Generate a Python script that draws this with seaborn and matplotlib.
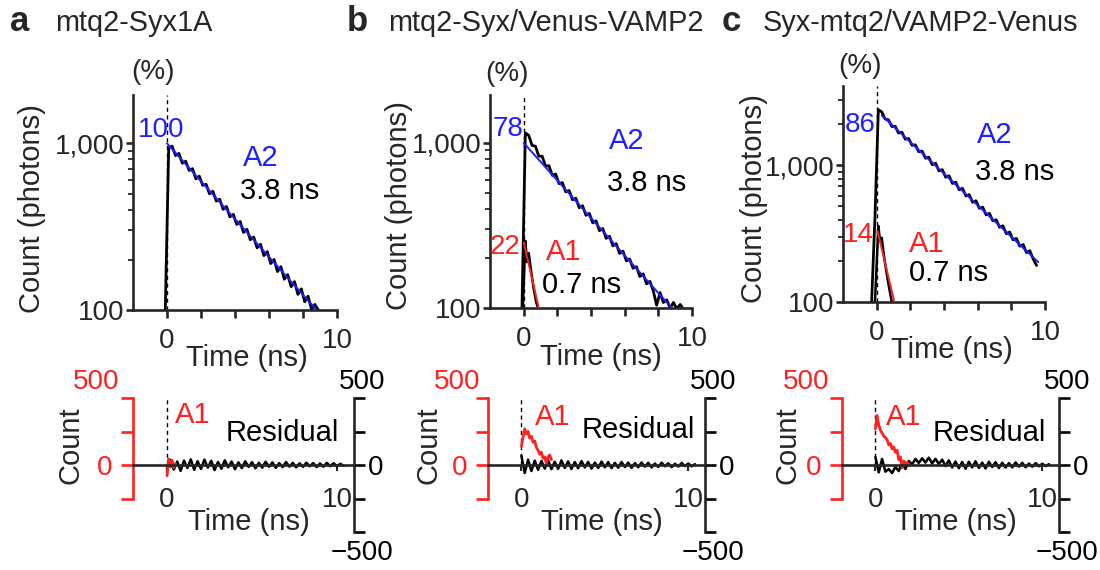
import numpy as np
import matplotlib
matplotlib.use("Agg")
import matplotlib.pyplot as plt
import seaborn as sns
from matplotlib.ticker import FixedLocator, FixedFormatter, LogLocator, NullFormatter

sns.set_theme(style="ticks")
plt.rcParams["font.family"] = ["Liberation Sans", "DejaVu Sans"]
plt.rcParams["axes.linewidth"] = 1.9

BLUE = "#1f1fff"
RED = "#ff2020"
nan = np.nan

# ---------------- data ----------------
panel_ids = ["a", "b", "c"]
panel_titles = ["mtq2-Syx1A", "mtq2-Syx/Venus-VAMP2", "Syx-mtq2/VAMP2-Venus"]
a2_percent = ["100", "78", "86"]
a1_percent = [None, "22", "14"]
tau_a2 = "3.8 ns"
tau_a1 = "0.7 ns"

# fluorescence decay histograms (photons), time in ns
t_bins = [-0.3, -0.1, 0.1, 0.3, 0.5, 0.7, 0.9, 1.1, 1.3, 1.5, 1.7, 1.9, 2.1, 2.3, 2.5,
          2.7, 2.9, 3.1, 3.3, 3.5, 3.7, 3.9, 4.1, 4.3, 4.5, 4.7, 4.9, 5.1, 5.3, 5.5,
          5.7, 5.9, 6.1, 6.3, 6.5, 6.7, 6.9, 7.1, 7.3, 7.5, 7.7, 7.9, 8.1, 8.3, 8.5,
          8.7, 8.9, 9.1, 9.3, 9.5]
counts_a = [nan, 100, 940, 962, 845, 870, 760, 782, 688, 705, 612, 636, 560, 568, 498,
            515, 450, 462, 402, 418, 362, 375, 326, 340, 292, 305, 264, 274, 236, 248,
            212, 224, 190, 201, 170, 182, 153, 163, 138, 148, 124, 134, 112, 121, 101,
            108, 100, 97, nan, nan]
counts_b = [nan, 100, 1150, 1110, 965, 955, 830, 830, 722, 728, 636, 648, 566, 575, 505,
            515, 452, 462, 405, 416, 364, 374, 328, 337, 294, 303, 264, 272, 238, 245,
            214, 221, 193, 198, 174, 178, 155, 161, 140, 145, 127, 104, 124, 108, 112,
            100, 108, 99, 105, 98]
counts_c = [100, 420, 2550, 2460, 2180, 2150, 1920, 1930, 1720, 1745, 1550, 1570, 1400,
            1410, 1255, 1270, 1125, 1145, 1010, 1035, 910, 930, 818, 838, 736, 752, 662,
            678, 596, 610, 536, 550, 484, 494, 434, 445, 392, 400, 352, 361, 316, 325,
            285, 292, 256, 263, 230, 237, 206, 185]

# fast (A1) component trace, panels b and c
fast_t_b = [-0.05, 0.1, 0.2, 0.3, 0.45, 0.6, 0.75, 0.85]
fast_b = [100, 255, 190, 215, 165, 130, 108, 100]
fast_t_c = [-0.1, 0.1, 0.2, 0.3, 0.45, 0.6, 0.75, 0.9]
fast_c = [100, 360, 280, 295, 210, 160, 125, 100]

# single-exponential fits (straight on the log axis: end points)
fit_a2_t = [[0.0, 8.8], [0.0, 8.8], [0.3, 9.6]]
fit_a2 = [[1000, 100], [1000, 100], [2320, 196]]
fit_a1_t = [None, [0.0, 0.9], [0.05, 1.05]]
fit_a1 = [None, [250, 100], [330, 100]]

# residuals (black) and A1 component counts (red)
t_res = [0.0, 0.2, 0.4, 0.6, 0.8, 1.0, 1.2, 1.4, 1.6, 1.8, 2.0, 2.2, 2.4, 2.6, 2.8, 3.0,
         3.2, 3.4, 3.6, 3.8, 4.0, 4.2, 4.4, 4.6, 4.8, 5.0, 5.2, 5.4, 5.6, 5.8, 6.0, 6.2,
         6.4, 6.6, 6.8, 7.0, 7.2, 7.4, 7.6, 7.8, 8.0, 8.2, 8.4, 8.6, 8.8, 9.0, 9.2, 9.4,
         9.6, 9.8, 10.0, 10.2, 10.4]
res_a = [-28, 38, -34, 26, -44, 33, -22, 42, -36, 28, -30, 40, -20, 31, -38, 23, -28, 35,
         -17, 26, -31, 20, -23, 28, -14, 21, -25, 16, -20, 24, -13, 19, -21, 14, -16, 22,
         -12, 16, -18, 13, -14, 17, -10, 14, -16, 12, -13, 16, -9, 13, -10, 9, -7]
res_b = [70, -60, 40, -45, 33, -36, 30, -27, 36, -31, 24, -29, 34, -22, 27, -30, 22, -24,
         29, -19, 23, -27, 18, -22, 25, -17, 21, -23, 16, -20, 22, -15, 18, -21, 14, -17,
         19, -12, 16, -18, 11, -15, 17, -10, 13, -16, 9, -12, 15, -8, 11, -10, 6]
res_c = [60, -55, 45, -50, -30, -60, -15, -45, 15, -30, 30, 5, 45, 15, 50, 18, 55, 12,
         46, 8, 40, -8, 34, -18, 26, -24, 22, -28, 24, -18, 28, -22, 18, -26, 24, -15,
         21, -23, 17, -19, 14, -18, 19, -12, 16, -17, 11, -13, 14, -10, 10, -8, 6]

a1_t_a = [0.0, 0.1, 0.2, 0.3, 0.4, 0.5]
a1_a = [-80, 45, -15, 35, -20, 10]
a1_t_b = [0.0, 0.1, 0.2, 0.3, 0.4, 0.5, 0.6, 0.7, 0.8, 0.9, 1.0, 1.1, 1.2, 1.3, 1.4,
          1.5, 1.6, 1.7, 1.8]
a1_b = [140, 210, 270, 230, 250, 200, 215, 170, 180, 130, 110, 80, 95, 50, 60, 10, 60,
        75, 40]
a1_t_c = [0.0, 0.1, 0.2, 0.3, 0.4, 0.5, 0.6, 0.7, 0.8, 0.9, 1.0, 1.1, 1.2, 1.3, 1.4,
          1.5, 1.6, 1.7, 1.8, 1.9, 2.0]
a1_c = [270, 370, 300, 260, 240, 215, 205, 190, 150, 160, 120, 135, 95, 110, 40, 60,
        -20, 30, 10, 20, 0]

decays = [counts_a, counts_b, counts_c]
fast_t = [None, fast_t_b, fast_t_c]
fast = [None, fast_b, fast_c]
residuals = [res_a, res_b, res_c]
a1_t = [a1_t_a, a1_t_b, a1_t_c]
a1_vals = [a1_a, a1_b, a1_c]

# ---------------- layout (pixels of the 1100x570 canvas) ----------------
W, H = 1100, 570


def box(x0, y0, x1, y1):
    return [x0 / W, 1 - y1 / H, (x1 - x0) / W, (y1 - y0) / H]


top_boxes = [box(133, 95, 337, 310), box(490, 95, 692, 308), box(843, 86, 1045, 302)]
bot_boxes = [box(133, 398, 354, 532), box(488, 398, 705, 532), box(842, 398, 1059, 532)]
y_tops = [1950, 1950, 3800]
label_px = [10, 347, 722]
title_px = [55, 388, 763]

# annotation anchors in data coords (t, counts)
pct2_pos = [(-0.35, 1200), (-0.95, 1220), (-1.0, 1960)]
a2_pos = [(5.5, 820), (6.1, 1030), (7.0, 1656)]
tau2_pos = [(6.6, 520), (7.3, 570), (8.2, 889)]
pct1_pos = [None, (-1.1, 235), (-1.07, 309)]
a1_pos = [None, (2.35, 218), (3.0, 265)]
tau1_pos = [None, (3.45, 138), (4.3, 163)]
ylab_top = [(-0.495, 0.474), (-0.45, 0.479), (-0.44, 0.48)]
xlab_top = [(0.56, -0.222), (0.55, -0.232), (0.54, -0.22)]
pct_lab = [(0.098, 1.107), (0.084, 1.099), (0.084, 1.093)]
bot_a1_pos = [(1.5, 373), (1.9, 358), (1.67, 358)]
bot_res_pos = [(6.8, 239), (7.0, 261), (6.85, 239)]
bot_ylab_x = [-0.285, -0.276, -0.251]
red500_x = [-0.167, -0.143, -0.164]

FS = 21
TFS = 20
dash = (0, (3, 2.5))

fig = plt.figure(figsize=(11, 5.7), dpi=100)

for i in range(3):
    # ---------- panel header ----------
    fig.text(label_px[i] / W, 1 - 31 / H, panel_ids[i], fontsize=25, fontweight="bold",
             va="baseline", ha="left")
    fig.text(title_px[i] / W, 1 - 31 / H, panel_titles[i], fontsize=20.8, va="baseline",
             ha="left")

    # ---------- decay panel ----------
    ax = fig.add_axes(top_boxes[i])
    ax.set_yscale("log")
    ax.axvline(0, color="black", ls=dash, lw=1.0, zorder=1)
    sns.lineplot(x=t_bins, y=decays[i], ax=ax, color="black", lw=2.0,
                 estimator=None, sort=False, zorder=2)
    if fast[i] is not None:
        sns.lineplot(x=fast_t[i], y=fast[i], ax=ax, color="black", lw=1.8,
                     estimator=None, sort=False, zorder=2)
        sns.lineplot(x=fit_a1_t[i], y=fit_a1[i], ax=ax, color=RED, lw=1.4,
                     estimator=None, sort=False, zorder=3)
    sns.lineplot(x=fit_a2_t[i], y=fit_a2[i], ax=ax, color=BLUE, lw=1.4,
                 estimator=None, sort=False, zorder=3)

    ax.set_xlim(-2, 10)
    ax.set_ylim(100, y_tops[i])
    ax.spines[["top", "right"]].set_visible(False)
    ax.yaxis.set_major_locator(FixedLocator([100, 1000]))
    ax.yaxis.set_major_formatter(FixedFormatter(["100", "1,000"]))
    ax.yaxis.set_minor_locator(LogLocator(base=10, subs=range(2, 10)))
    ax.yaxis.set_minor_formatter(NullFormatter())
    ax.set_xticks([0, 2, 4, 6, 8, 10])
    ax.set_xticklabels(["0", "", "", "", "", "10"])
    ax.tick_params(axis="y", which="major", length=5, width=1.9, pad=1, labelsize=TFS)
    ax.tick_params(axis="y", which="minor", length=3.5, width=1.3)
    ax.tick_params(axis="x", length=6, width=1.9, pad=7, labelsize=TFS)

    ax.set_ylabel("Count (photons)", fontsize=FS, va="center")
    ax.yaxis.set_label_coords(*ylab_top[i])
    ax.set_xlabel("Time (ns)", fontsize=FS, va="center")
    ax.xaxis.set_label_coords(*xlab_top[i])
    ax.text(*pct_lab[i], "(%)", transform=ax.transAxes, ha="center", va="center",
            fontsize=TFS, clip_on=False)

    ax.text(*pct2_pos[i], a2_percent[i], color=BLUE, fontsize=TFS, ha="center", va="center")
    ax.text(*a2_pos[i], "A2", color=BLUE, fontsize=FS, ha="center", va="center")
    ax.text(*tau2_pos[i], tau_a2, color="black", fontsize=FS, ha="center", va="center")
    if a1_percent[i] is not None:
        ax.text(*pct1_pos[i], a1_percent[i], color=RED, fontsize=TFS, ha="center", va="center")
        ax.text(*a1_pos[i], "A1", color=RED, fontsize=FS, ha="center", va="center")
        ax.text(*tau1_pos[i], tau_a1, color="black", fontsize=FS, ha="center", va="center")

    # ---------- residual panel ----------
    bx = fig.add_axes(bot_boxes[i])
    bx.patch.set_visible(False)
    bx.axvline(0, ymin=0.5, ymax=1.0, color="black", ls=dash, lw=1.0)
    sns.lineplot(x=t_res, y=residuals[i], ax=bx, color="black", lw=1.8,
                 estimator=None, sort=False)
    sns.lineplot(x=a1_t[i], y=a1_vals[i], ax=bx, color=RED, lw=2.0,
                 estimator=None, sort=False)
    bx.set_xlim(-2, 11)
    bx.set_ylim(-500, 500)
    bx.spines["top"].set_visible(False)
    bx.spines["right"].set_visible(False)
    bx.spines["bottom"].set_position(("data", 0))
    bx.spines["left"].set_color(RED)
    bx.spines["left"].set_bounds(-250, 500)
    bx.set_yticks([-250, 0, 250, 500])
    bx.set_yticklabels(["", "0", "", ""])
    bx.tick_params(axis="y", colors=RED, length=9, width=1.9, pad=6, labelsize=TFS)
    bx.set_xticks([0, 10])
    bx.set_xticklabels(["0", "10"])
    bx.tick_params(axis="x", length=4, width=1.5, pad=12, labelsize=TFS)
    bx.set_ylabel("Count", fontsize=FS, va="center")
    bx.yaxis.set_label_coords(bot_ylab_x[i], 0.649)
    bx.set_xlabel("Time (ns)", fontsize=FS, va="center")
    bx.xaxis.set_label_coords(0.525, 0.075)

    rx = bx.twinx()
    rx.set_ylim(-500, 500)
    rx.spines[["top", "left", "bottom"]].set_visible(False)
    rx.spines["right"].set_bounds(-500, 500)
    rx.set_yticks([-500, -250, 0, 250, 500])
    rx.set_yticklabels(["", "", "0", "", ""])
    rx.tick_params(axis="y", colors="black", length=8, width=1.9, pad=2, labelsize=TFS)
    rx.grid(False)

    bx.text(red500_x[i], 1.12, "500", color=RED, transform=bx.transAxes, ha="center",
            va="center", fontsize=TFS)
    bx.text(1.036, 1.12, "500", color="black", transform=bx.transAxes, ha="center",
            va="center", fontsize=TFS)
    bx.text(1.036, -0.157, "\u2212500", color="black", transform=bx.transAxes, ha="center",
            va="center", fontsize=TFS)
    bx.text(*bot_a1_pos[i], "A1", color=RED, fontsize=FS, ha="center", va="center")
    bx.text(*bot_res_pos[i], "Residual", color="black", fontsize=FS, ha="center", va="center")

fig.savefig("out.png", dpi=100)
